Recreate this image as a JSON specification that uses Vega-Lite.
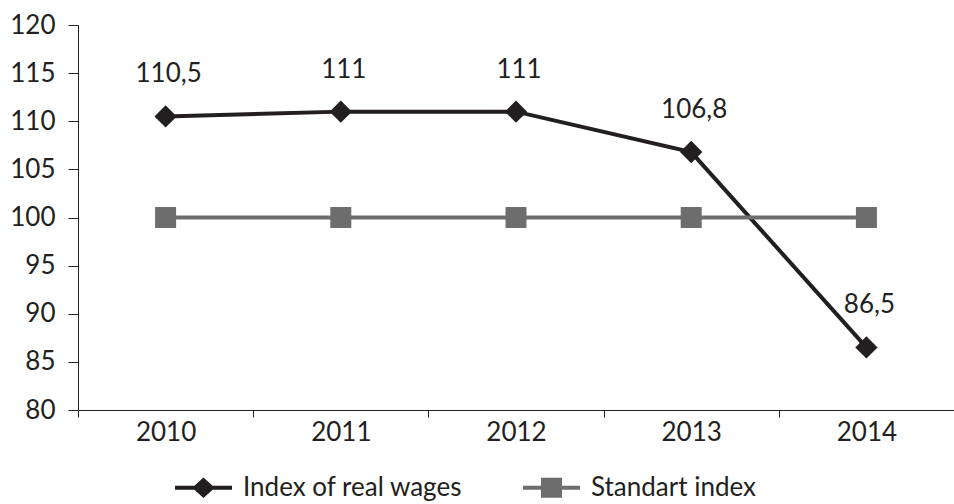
{
  "$schema": "https://vega.github.io/schema/vega-lite/v6.json",
  "width": 876,
  "height": 385,
  "autosize": {"type": "none"},
  "padding": {"left": 78, "top": 25, "right": 0, "bottom": 94},
  "background": "white",
  "config": {
    "font": "Lato",
    "view": {"stroke": null},
    "axis": {
      "domainColor": "#231f20",
      "tickColor": "#231f20",
      "labelColor": "#231f20",
      "labelFontSize": 26,
      "labelFont": "Lato",
      "grid": false,
      "title": null
    },
    "legend": {"labelFont": "Lato"}
  },
  "data": {
    "values": [
      {"year": "2010", "value": 110.5, "series": "Index of real wages", "label": "110,5"},
      {"year": "2011", "value": 111, "series": "Index of real wages", "label": "111"},
      {"year": "2012", "value": 111, "series": "Index of real wages", "label": "111"},
      {"year": "2013", "value": 106.8, "series": "Index of real wages", "label": "106,8"},
      {"year": "2014", "value": 86.5, "series": "Index of real wages", "label": "86,5"},
      {"year": "2010", "value": 100, "series": "Standart index", "label": "100"},
      {"year": "2011", "value": 100, "series": "Standart index", "label": "100"},
      {"year": "2012", "value": 100, "series": "Standart index", "label": "100"},
      {"year": "2013", "value": 100, "series": "Standart index", "label": "100"},
      {"year": "2014", "value": 100, "series": "Standart index", "label": "100"}
    ]
  },
  "encoding": {
    "x": {
      "field": "year",
      "type": "nominal",
      "bandPosition": 0.5,
      "scale": {"type": "band", "paddingInner": 0, "paddingOuter": 0},
      "axis": {"labelAngle": 0, "tickBand": "extent", "tickSize": 7, "labelPadding": 2}
    },
    "y": {
      "field": "value",
      "type": "quantitative",
      "scale": {"domain": [80, 120], "nice": false, "zero": false},
      "axis": {"values": [80, 85, 90, 95, 100, 105, 110, 115, 120], "tickSize": 10, "labelPadding": 13}
    }
  },
  "layer": [
    {
      "transform": [{"filter": "datum.series === 'Index of real wages'"}],
      "mark": {"type": "line", "color": "#231f20", "strokeWidth": 4}
    },
    {
      "transform": [{"filter": "datum.series === 'Standart index'"}],
      "mark": {"type": "line", "color": "#6d6d6d", "strokeWidth": 4}
    },
    {
      "transform": [{"filter": "datum.series === 'Index of real wages'"}],
      "mark": {"type": "point", "shape": "diamond", "filled": true, "size": 500, "color": "#231f20", "opacity": 1}
    },
    {
      "transform": [{"filter": "datum.series === 'Standart index'"}],
      "mark": {"type": "point", "shape": "square", "filled": true, "size": 441, "color": "#6d6d6d", "opacity": 1}
    },
    {
      "transform": [{"filter": "datum.series === 'Index of real wages'"}],
      "mark": {"type": "text", "dy": -42, "dx": 3, "fontSize": 26, "color": "#231f20", "font": "Lato"},
      "encoding": {"text": {"field": "label"}}
    },
    {
      "transform": [{"filter": "false"}],
      "mark": {"type": "point", "filled": true, "opacity": 1},
      "encoding": {
        "color": {
          "field": "series",
          "type": "nominal",
          "scale": {"domain": ["Index of real wages", "Standart index"], "range": ["#231f20", "#6d6d6d"]},
          "legend": {
            "title": null,
            "orient": "none",
            "direction": "horizontal",
            "legendX": 97,
            "legendY": 434,
            "padding": 0,
            "labelFontSize": 26,
            "labelColor": "#231f20",
            "labelOffset": 11,
            "labelLimit": 400,
            "columnPadding": 60,
            "symbolSize": 3249,
            "symbolOpacity": 1,
            "symbolStrokeWidth": 0
          }
        },
        "shape": {
          "field": "series",
          "type": "nominal",
          "scale": {
            "domain": ["Index of real wages", "Standart index"],
            "range": [
              "M-1,-0.07L-0.32,-0.07L0,-0.36L0.32,-0.07L1,-0.07L1,0.07L0.32,0.07L0,0.36L-0.32,0.07L-1,0.07Z",
              "M-1,-0.07L-0.37,-0.07L-0.37,-0.35L0.37,-0.35L0.37,-0.07L1,-0.07L1,0.07L0.37,0.07L0.37,0.35L-0.37,0.35L-0.37,0.07L-1,0.07Z"
            ]
          }
        }
      }
    }
  ]
}
